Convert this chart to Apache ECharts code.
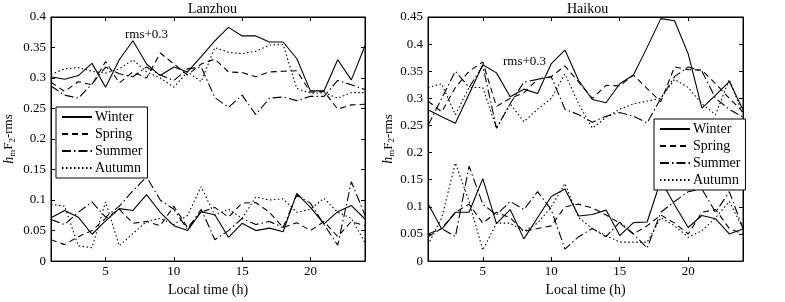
<!DOCTYPE html>
<html>
<head>
<meta charset="utf-8">
<script src="https://cdn.jsdelivr.net/npm/echarts@6/dist/echarts.min.js"></script>
<style>
  html, body { margin: 0; padding: 0; background: #fff; }
  #main { width: 785px; height: 302px; }
</style>
</head>
<body>
<div id="main"></div>
<script>
var hours = [1,2,3,4,5,6,7,8,9,10,11,12,13,14,15,16,17,18,19,20,21,22,23,24];
var seasons = ['Winter', 'Spring', 'Summer', 'Autumn'];
var xTicks = [5, 10, 15, 20];

// Lanzhou, upper curves are rms+0.3, lower curves are rms
var lzWinterTop = [0.302,0.298,0.304,0.324,0.285,0.330,0.361,0.323,0.304,0.318,0.310,0.335,0.361,0.383,0.369,0.369,0.359,0.359,0.332,0.279,0.279,0.330,0.297,0.353];
var lzSpringTop = [0.293,0.278,0.294,0.289,0.327,0.292,0.310,0.300,0.341,0.323,0.305,0.323,0.331,0.310,0.309,0.302,0.310,0.311,0.312,0.277,0.278,0.249,0.256,0.257];
var lzSummerTop = [0.287,0.272,0.267,0.290,0.318,0.307,0.302,0.318,0.305,0.296,0.315,0.318,0.268,0.252,0.272,0.240,0.267,0.269,0.263,0.270,0.270,0.296,0.289,0.281];
var lzAutumnTop = [0.306,0.315,0.317,0.311,0.308,0.315,0.330,0.310,0.300,0.285,0.310,0.294,0.350,0.342,0.340,0.344,0.354,0.355,0.283,0.275,0.276,0.267,0.276,0.276];

var lzWinterLow = [0.071,0.083,0.072,0.044,0.066,0.086,0.083,0.109,0.080,0.058,0.050,0.081,0.076,0.039,0.062,0.050,0.054,0.048,0.111,0.088,0.061,0.081,0.091,0.069];
var lzSpringLow = [0.035,0.027,0.040,0.050,0.070,0.085,0.062,0.065,0.058,0.090,0.055,0.080,0.088,0.072,0.095,0.096,0.080,0.055,0.063,0.050,0.065,0.040,0.065,0.058];
var lzSummerLow = [0.068,0.060,0.080,0.097,0.072,0.090,0.115,0.138,0.100,0.085,0.052,0.085,0.035,0.050,0.070,0.060,0.065,0.055,0.108,0.095,0.060,0.026,0.130,0.075];
var lzAutumnLow = [0.093,0.090,0.025,0.022,0.097,0.025,0.045,0.065,0.070,0.060,0.075,0.122,0.075,0.085,0.070,0.105,0.100,0.102,0.080,0.085,0.103,0.080,0.070,0.030];

// Haikou
var hkWinterTop = [0.279,0.266,0.254,0.308,0.362,0.347,0.303,0.317,0.309,0.364,0.389,0.333,0.298,0.292,0.327,0.343,0.394,0.447,0.443,0.382,0.282,0.306,0.331,0.279];
var hkSpringTop = [0.295,0.275,0.320,0.350,0.367,0.285,0.300,0.310,0.335,0.340,0.360,0.330,0.300,0.324,0.323,0.343,0.318,0.294,0.358,0.353,0.352,0.327,0.300,0.275];
var hkSummerTop = [0.250,0.300,0.350,0.320,0.360,0.245,0.290,0.330,0.335,0.340,0.280,0.270,0.256,0.267,0.274,0.267,0.255,0.300,0.340,0.358,0.350,0.300,0.280,0.265];
var hkAutumnTop = [0.320,0.327,0.270,0.320,0.320,0.245,0.290,0.257,0.280,0.300,0.345,0.290,0.245,0.265,0.280,0.290,0.295,0.300,0.335,0.320,0.290,0.270,0.335,0.270];

var hkWinterLow = [0.106,0.059,0.090,0.090,0.152,0.069,0.095,0.041,0.080,0.119,0.133,0.083,0.086,0.094,0.047,0.071,0.072,0.149,0.104,0.062,0.084,0.078,0.050,0.059];
var hkSpringLow = [0.045,0.060,0.090,0.105,0.070,0.090,0.080,0.055,0.060,0.065,0.100,0.105,0.098,0.085,0.070,0.050,0.065,0.085,0.070,0.050,0.090,0.095,0.060,0.050];
var hkSummerLow = [0.050,0.060,0.045,0.175,0.105,0.085,0.110,0.095,0.128,0.095,0.022,0.045,0.060,0.045,0.072,0.050,0.024,0.090,0.110,0.128,0.133,0.090,0.128,0.060];
var hkAutumnLow = [0.030,0.080,0.181,0.110,0.020,0.070,0.070,0.055,0.070,0.100,0.143,0.080,0.060,0.047,0.035,0.035,0.035,0.080,0.065,0.044,0.056,0.080,0.110,0.060];

var lineTypes = {
  Winter: 'solid',
  Spring: [6, 4],
  Summer: [9, 3, 1.5, 3],
  Autumn: [1.5, 2.5]
};

var fontFam = '"Liberation Serif", "DejaVu Serif", serif';

function pair(arr) {
  return arr.map(function (v, i) { return [hours[i], v]; });
}

function makeSeries(name, data, idx) {
  return {
    name: name,
    type: 'line',
    xAxisIndex: idx,
    yAxisIndex: idx,
    data: pair(data),
    symbol: 'none',
    silent: true,
    animation: false,
    lineStyle: { color: '#000', width: 1.1, type: lineTypes[name] },
    itemStyle: { color: 'rgba(0,0,0,0)', borderWidth: 0 }
  };
}

function xAxisFor(gi, top) {
  return {
    type: 'value',
    gridIndex: gi,
    position: top ? 'top' : 'bottom',
    min: 1,
    max: 24,
    name: top ? '' : 'Local time (h)',
    nameLocation: 'middle',
    nameGap: 20,
    nameTextStyle: { fontFamily: fontFam, fontSize: 14, color: '#000' },
    axisLine: { show: true, onZero: false, lineStyle: { color: '#000', width: 1 } },
    axisTick: { show: true, inside: true, length: 4, customValues: xTicks, lineStyle: { color: '#000' } },
    axisLabel: { show: !top, customValues: xTicks, fontFamily: fontFam, fontSize: 13, color: '#000', margin: 4 },
    splitLine: { show: false }
  };
}

function yAxisFor(gi, right, max, gap) {
  return {
    type: 'value',
    gridIndex: gi,
    position: right ? 'right' : 'left',
    min: 0,
    max: max,
    interval: 0.05,
    name: right ? '' : '{i|h}{s|m}{n|F}{s|2}{n|-rms}',
    nameLocation: 'middle',
    nameRotate: 90,
    nameGap: gap,
    nameTextStyle: {
      fontFamily: fontFam, color: '#000',
      rich: {
        i: { fontFamily: fontFam, fontStyle: 'italic', fontSize: 14, color: '#000', lineHeight: 16 },
        n: { fontFamily: fontFam, fontSize: 13, color: '#000', lineHeight: 16 },
        s: { fontFamily: fontFam, fontSize: 9, color: '#000', lineHeight: 16, verticalAlign: 'bottom' }
      }
    },
    axisLine: { show: true, onZero: false, lineStyle: { color: '#000', width: 1 } },
    axisTick: { show: true, inside: true, length: 4, lineStyle: { color: '#000' } },
    axisLabel: {
      show: !right, fontFamily: fontFam, fontSize: 13, color: '#000', margin: 5,
      formatter: function (v) { return String(Math.round(v * 100) / 100); }
    },
    splitLine: { show: false }
  };
}

function legendFor(left, top) {
  return {
    data: seasons,
    orient: 'vertical',
    left: left,
    top: top,
    backgroundColor: '#fff',
    borderColor: '#000',
    borderWidth: 1,
    borderRadius: 0,
    padding: [3, 5, 3, 5],
    itemWidth: 30,
    itemHeight: 10,
    itemGap: 3,
    selectedMode: false,
    itemStyle: { color: 'rgba(0,0,0,0)', borderWidth: 0 },
    textStyle: { fontFamily: fontFam, fontSize: 14, color: '#000', padding: [0, 0, 0, -2] }
  };
}

var series = [];
var lzTop = { Winter: lzWinterTop, Spring: lzSpringTop, Summer: lzSummerTop, Autumn: lzAutumnTop };
var lzLow = { Winter: lzWinterLow, Spring: lzSpringLow, Summer: lzSummerLow, Autumn: lzAutumnLow };
var hkTop = { Winter: hkWinterTop, Spring: hkSpringTop, Summer: hkSummerTop, Autumn: hkAutumnTop };
var hkLow = { Winter: hkWinterLow, Spring: hkSpringLow, Summer: hkSummerLow, Autumn: hkAutumnLow };
seasons.forEach(function (s) {
  series.push(makeSeries(s, lzTop[s], 0));
  series.push(makeSeries(s, lzLow[s], 0));
});
seasons.forEach(function (s) {
  series.push(makeSeries(s, hkTop[s], 1));
  series.push(makeSeries(s, hkLow[s], 1));
});

var myChart = echarts.init(document.getElementById('main'), null, { renderer: 'canvas' });

var option = {
  backgroundColor: '#fff',
  animation: false,
  grid: [
    { left: 51, top: 17, width: 314, height: 249, show: true, borderColor: '#000', borderWidth: 1, backgroundColor: 'transparent' },
    { left: 428, top: 17, width: 315, height: 249, show: true, borderColor: '#000', borderWidth: 1, backgroundColor: 'transparent' }
  ],
  xAxis: [xAxisFor(0, false), xAxisFor(1, false), xAxisFor(0, true), xAxisFor(1, true)],
  yAxis: [yAxisFor(0, false, 0.4, 34), yAxisFor(1, false, 0.45, 31), yAxisFor(0, true, 0.4, 0), yAxisFor(1, true, 0.45, 0)],
  legend: [legendFor(56, 107), legendFor(654, 119)],
  graphic: [
    { type: 'text', left: 188, top: 2, style: { text: 'Lanzhou', font: '14px ' + fontFam, fill: '#000' } },
    { type: 'text', left: 567, top: 2, style: { text: 'Haikou', font: '14px ' + fontFam, fill: '#000' } },
    { type: 'text', left: 125, top: 28, style: { text: 'rms+0.3', font: '13px ' + fontFam, fill: '#000' } },
    { type: 'text', left: 503, top: 55, style: { text: 'rms+0.3', font: '13px ' + fontFam, fill: '#000' } }
  ],
  series: series
};

myChart.setOption(option);
</script>
</body>
</html>
